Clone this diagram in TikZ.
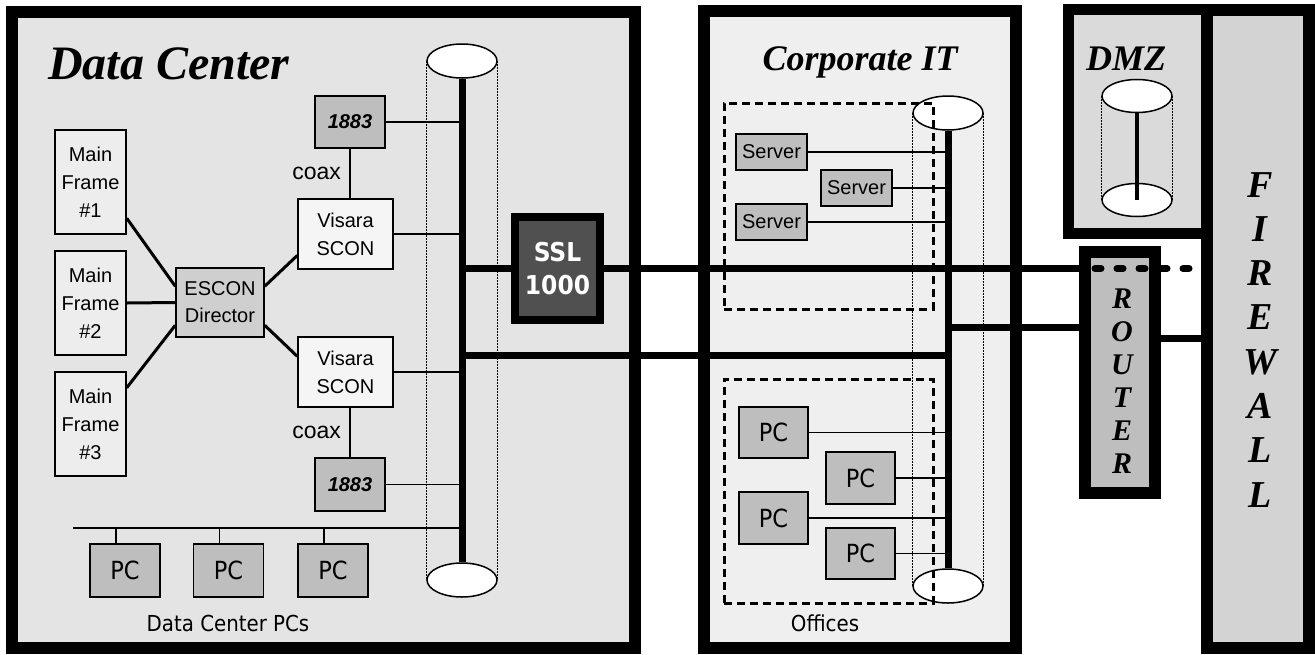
\documentclass[tikz,border=0pt]{standalone}
\usepackage{fontspec}
\setmainfont{Liberation Serif}
\newfontfamily\arialfont{Liberation Sans}
\newfontfamily\tahomafont{DejaVu Sans Condensed}
\usetikzlibrary{shapes.geometric}

\definecolor{dcgray}{HTML}{E4E4E4}
\definecolor{itgray}{HTML}{EFEFEF}
\definecolor{dmzgray}{HTML}{DADADA}
\definecolor{fwgray}{HTML}{D3D3D3}
\definecolor{devgray}{HTML}{BEBEBE}
\definecolor{escgray}{HTML}{CFCFCF}
\definecolor{mfgray}{HTML}{EDEDED}
\definecolor{visgray}{HTML}{F5F5F5}
\definecolor{sslgray}{HTML}{505050}

\begin{document}
\begin{tikzpicture}[x=1pt,y=-1pt,
  zone/.style={draw,line width=12pt,inner sep=0pt},
  box/.style={draw,line width=1.5pt,inner sep=0pt,align=center,font=\arialfont\fontsize{20}{28}\selectfont},
  pcbox/.style={box,fill=devgray,minimum width=70pt,minimum height=53pt,font=\tahomafont\fontsize{25}{28}\selectfont},
  server/.style={box,line width=2.5pt,fill=devgray,minimum width=71pt,minimum height=36pt},
  hub/.style={draw,ellipse,fill=white,line width=1.5pt,minimum width=70pt,minimum height=34pt,inner sep=0pt},
  bus/.style={line width=1.4pt},
  trunk/.style={line width=7pt},
  link/.style={line width=3pt},
  ring/.style={line width=1.3pt,dash pattern=on 1.5pt off 1.5pt},
  group/.style={draw,line width=3pt,dash pattern=on 8pt off 5pt},
  title/.style={font=\bfseries\itshape\fontsize{36}{36}\selectfont,inner sep=0pt},
  note/.style={font=\tahomafont\fontsize{22}{22}\selectfont},
]
\useasboundingbox (0,0) rectangle (1315,654);

% zones
\node[zone,fill=dcgray,minimum width=623pt,minimum height=636pt] (dc) at (323.5,330) {};
\node[zone,fill=itgray,minimum width=312pt,minimum height=637pt] (it) at (860,329.5) {};
\node[zone,fill=fwgray,minimum width=102pt,minimum height=638pt] (firewall) at (1258,329) {};
\node[zone,line width=11pt,fill=dmzgray,minimum width=138pt,minimum height=224pt] (dmz) at (1137.5,121.5) {};

\node[title,font=\bfseries\itshape\fontsize{48}{48}\selectfont,anchor=base west] (dctitle) at (48,79) {Data Center};
\node[title,anchor=base] (ittitle) at (860,70) {Corporate IT};
\node[title,anchor=base] (dmztitle) at (1126,70) {DMZ};
\foreach \ch [count=\i from 0] in {F,I,R,E,W,A,L,L}
  \node[title,font=\bfseries\itshape\fontsize{38}{38}\selectfont,anchor=base] (fw\i) at (1260,{197+44.3*\i}) {\ch};

% backbones
\node[hub] (dctop) at (462,61) {};
\node[hub] (dcbot) at (462,580) {};
\draw[ring] (dctop.west) -- (dcbot.west);
\draw[ring] (dctop.east) -- (dcbot.east);
\draw[trunk] (dctop.south) -- (dcbot.north);

\node[hub] (ittop) at (948,113) {};
\node[hub] (itbot) at (948,586) {};
\draw[ring] (ittop.west) -- (itbot.west);
\draw[ring] (ittop.east) -- (itbot.east);
\draw[trunk] (ittop.south) -- (itbot.north);

\node[hub,minimum height=33pt] (dmztop) at (1137,96) {};
\node[hub,minimum height=33pt] (dmzbot) at (1137,200) {};
\draw[ring] (dmztop.west) -- (dmzbot.west);
\draw[ring] (dmztop.east) -- (dmzbot.east);
\draw[line width=4.5pt] (dmztop.south) -- (dmzbot.center);

% wan links
\coordinate (wanb) at (0,355);
\coordinate (wanc) at (0,327);
\coordinate (wand) at (0,338);
\node[draw,line width=7.5pt,fill=sslgray,text=white,font=\tahomafont\bfseries\fontsize{26}{33}\selectfont,
  align=center,minimum width=85pt,minimum height=103pt,inner sep=0pt] (ssl) at (557.5,268.5) {SSL\\1000};
\node[zone,fill=devgray,minimum width=70pt,minimum height=241pt] (router) at (1120,372.5) {};
\draw[trunk] (ssl.west) -- (ssl.west -| dctop);
\draw[trunk] (ssl.east) -- (ssl.east -| router.west);
\draw[trunk,line cap=round,dash pattern=on 6pt off 16pt] ([xshift=16pt]ssl.east -| router.west) -- (ssl.east -| firewall.west);
\draw[trunk] (dctop |- wanb) -- (ittop |- wanb);
\draw[trunk] (ittop |- wanc) -- (router.west |- wanc);
\draw[trunk] (router.east |- wand) -- (firewall.west |- wand);
\foreach \ch [count=\i from 0] in {R,O,U,T,E,R}
  \node[title,font=\bfseries\itshape\fontsize{30}{30}\selectfont,anchor=base] (rt\i) at (1122,{308+33*\i}) {\ch};

% data center devices
\node[box,fill=mfgray,minimum width=71pt,minimum height=104pt] (mf1) at (90.5,182) {Main\\Frame\\\#1};
\node[box,fill=mfgray,minimum width=71pt,minimum height=104pt] (mf2) at (90.5,303) {Main\\Frame\\\#2};
\node[box,fill=mfgray,minimum width=71pt,minimum height=104pt] (mf3) at (90.5,424) {Main\\Frame\\\#3};
\node[box,fill=escgray,minimum width=88pt,minimum height=69pt,font=\arialfont\fontsize{20}{27}\selectfont] (escon) at (220,302.5) {ESCON\\Director};
\node[box,fill=visgray,minimum width=95pt,minimum height=70pt] (visara1) at (345.5,234) {Visara\\SCON};
\node[box,fill=visgray,minimum width=95pt,minimum height=70pt] (visara2) at (345.5,372) {Visara\\SCON};
\node[box,fill=devgray,minimum width=70pt,minimum height=52pt,font=\arialfont\bfseries\itshape\fontsize{20}{20}\selectfont] (ctl1) at (350,122) {1883};
\node[box,fill=devgray,minimum width=70pt,minimum height=53pt,font=\arialfont\bfseries\itshape\fontsize{20}{20}\selectfont] (ctl2) at (350,484.5) {1883};

\draw[link] (mf1.-45) -- (escon.160);
\draw[link] (mf2.east) -- (escon.west);
\draw[link] (mf3.45) -- (escon.207);
\draw[link] (escon.20) -- (visara1.204);
\draw[link] (escon.-27) -- (visara2.162);
\draw[bus] (ctl1.south) -- (ctl1.south |- visara1.north) node[midway,left=5pt,font=\arialfont\fontsize{23}{23}\selectfont] {coax};
\draw[bus] (visara2.south -| ctl2.north) -- (ctl2.north) node[midway,left=5pt,font=\arialfont\fontsize{23}{23}\selectfont] {coax};
\draw[bus] (ctl1.east) -- (ctl1.east -| dctop);
\draw[bus] (visara1.east) -- (visara1.east -| dctop);
\draw[bus] (visara2.east) -- (visara2.east -| dctop);
\draw[bus] (ctl2.east) -- (ctl2.east -| dctop);

\coordinate (pcbus) at (73,528);
\draw[bus] (pcbus) -- (pcbus -| dctop);
\node[pcbox] (dcpc1) at (125,570.5) {PC};
\node[pcbox] (dcpc2) at (228.5,570.5) {PC};
\node[pcbox] (dcpc3) at (333,570.5) {PC};
\foreach \p in {dcpc1,dcpc2,dcpc3}
  \draw[bus] ([xshift=-9pt]\p.north) -- ([xshift=-9pt]\p.north |- pcbus);
\node[note] (dcpclabel) at (228,623) {Data Center PCs};

% corporate it
\node[server] (srv1) at (771.5,152) {Server};
\node[server] (srv2) at (856.5,188) {Server};
\node[server] (srv3) at (771.5,222) {Server};
\foreach \s in {srv1,srv2,srv3}
  \draw[bus] (\s.east) -- (\s.east -| ittop);

\node[pcbox,minimum width=69pt,minimum height=51pt] (opc1) at (773.5,432.5) {PC};
\node[pcbox,minimum width=69pt,minimum height=52pt] (opc2) at (860.5,478) {PC};
\node[pcbox,minimum width=69pt,minimum height=52pt] (opc3) at (773.5,518) {PC};
\node[pcbox,minimum width=69pt,minimum height=51pt] (opc4) at (860.5,553.5) {PC};
\foreach \s in {opc1,opc2,opc3,opc4}
  \draw[bus] (\s.east) -- (\s.east -| ittop);
\node[note] (offlabel) at (825,623) {Offices};

\node[group,minimum width=209pt,minimum height=206pt] (srvgrp) at (828.5,206) {};
\node[group,minimum width=209pt,minimum height=224pt] (offgrp) at (828.5,491) {};
\end{tikzpicture}
\end{document}
